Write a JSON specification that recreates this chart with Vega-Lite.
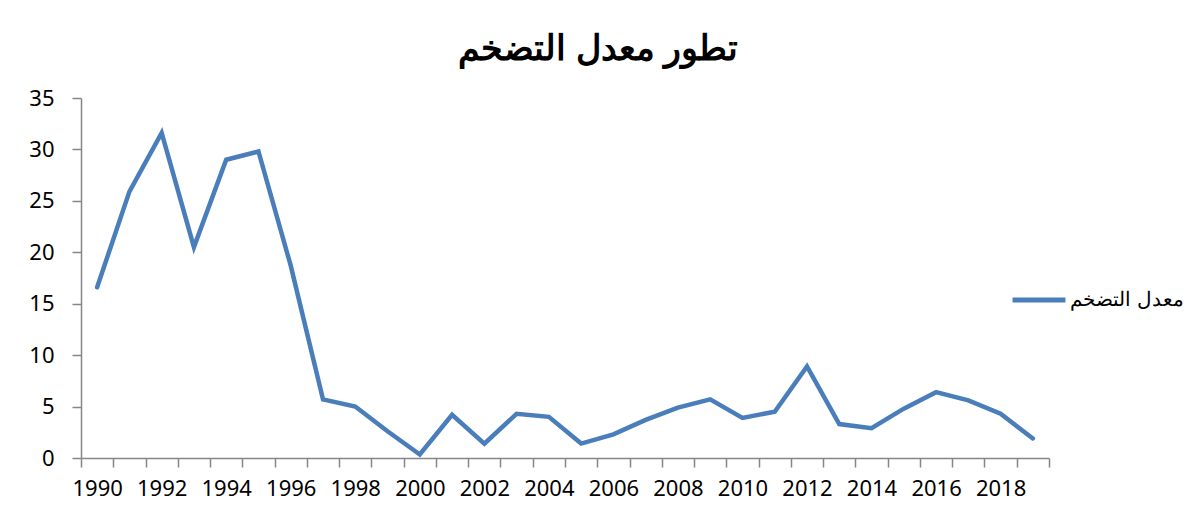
{
  "$schema": "https://vega.github.io/schema/vega-lite/v6.json",
  "autosize": "none",
  "width": 968,
  "height": 360,
  "padding": {"left": 81, "top": 98, "right": 153, "bottom": 59},
  "background": "white",
  "title": {
    "text": "تطور معدل التضخم",
    "font": "Liberation Sans",
    "fontSize": 35,
    "fontWeight": "bold",
    "color": "black",
    "anchor": "middle",
    "dx": 33,
    "offset": 20
  },
  "data": {
    "values": [
      {"year": 1990, "value": 16.6, "series": "معدل التضخم"},
      {"year": 1991, "value": 25.9, "series": "معدل التضخم"},
      {"year": 1992, "value": 31.6, "series": "معدل التضخم"},
      {"year": 1993, "value": 20.5, "series": "معدل التضخم"},
      {"year": 1994, "value": 29.0, "series": "معدل التضخم"},
      {"year": 1995, "value": 29.8, "series": "معدل التضخم"},
      {"year": 1996, "value": 18.7, "series": "معدل التضخم"},
      {"year": 1997, "value": 5.7, "series": "معدل التضخم"},
      {"year": 1998, "value": 5.0, "series": "معدل التضخم"},
      {"year": 1999, "value": 2.6, "series": "معدل التضخم"},
      {"year": 2000, "value": 0.34, "series": "معدل التضخم"},
      {"year": 2001, "value": 4.2, "series": "معدل التضخم"},
      {"year": 2002, "value": 1.4, "series": "معدل التضخم"},
      {"year": 2003, "value": 4.3, "series": "معدل التضخم"},
      {"year": 2004, "value": 4.0, "series": "معدل التضخم"},
      {"year": 2005, "value": 1.4, "series": "معدل التضخم"},
      {"year": 2006, "value": 2.3, "series": "معدل التضخم"},
      {"year": 2007, "value": 3.7, "series": "معدل التضخم"},
      {"year": 2008, "value": 4.9, "series": "معدل التضخم"},
      {"year": 2009, "value": 5.7, "series": "معدل التضخم"},
      {"year": 2010, "value": 3.9, "series": "معدل التضخم"},
      {"year": 2011, "value": 4.5, "series": "معدل التضخم"},
      {"year": 2012, "value": 8.9, "series": "معدل التضخم"},
      {"year": 2013, "value": 3.3, "series": "معدل التضخم"},
      {"year": 2014, "value": 2.9, "series": "معدل التضخم"},
      {"year": 2015, "value": 4.8, "series": "معدل التضخم"},
      {"year": 2016, "value": 6.4, "series": "معدل التضخم"},
      {"year": 2017, "value": 5.6, "series": "معدل التضخم"},
      {"year": 2018, "value": 4.3, "series": "معدل التضخم"},
      {"year": 2019, "value": 1.9, "series": "معدل التضخم"}
    ]
  },
  "mark": {"type": "line", "strokeWidth": 4.5, "strokeCap": "round"},
  "encoding": {
    "x": {
      "field": "year",
      "type": "quantitative",
      "scale": {"domain": [1989.5, 2019.5], "nice": false, "zero": false},
      "axis": {
        "title": null,
        "grid": false,
        "values": [1989.5, 1990, 1990.5, 1991, 1991.5, 1992, 1992.5, 1993, 1993.5, 1994, 1994.5, 1995, 1995.5, 1996, 1996.5, 1997, 1997.5, 1998, 1998.5, 1999, 1999.5, 2000, 2000.5, 2001, 2001.5, 2002, 2002.5, 2003, 2003.5, 2004, 2004.5, 2005, 2005.5, 2006, 2006.5, 2007, 2007.5, 2008, 2008.5, 2009, 2009.5, 2010, 2010.5, 2011, 2011.5, 2012, 2012.5, 2013, 2013.5, 2014, 2014.5, 2015, 2015.5, 2016, 2016.5, 2017, 2017.5, 2018, 2018.5, 2019, 2019.5],
        "labelExpr": "datum.value % 2 == 0 ? '' + datum.value : ''",
        "labelOverlap": false,
        "labelFlush": false,
        "labelFont": "Noto Sans",
        "labelFontSize": 22,
        "labelColor": "black",
        "labelPadding": 11,
        "tickSize": 9,
        "tickColor": "#868686",
        "tickWidth": 1.5,
        "tickOpacity": {"condition": {"test": "datum.value % 1 == 0", "value": 0}, "value": 1},
        "domainColor": "#868686",
        "domainWidth": 1.5
      }
    },
    "y": {
      "field": "value",
      "type": "quantitative",
      "scale": {"domain": [0, 35], "nice": false},
      "axis": {
        "title": null,
        "grid": false,
        "values": [0, 5, 10, 15, 20, 25, 30, 35],
        "labelFont": "Noto Sans",
        "labelFontSize": 22,
        "labelColor": "black",
        "labelPadding": 18,
        "tickSize": 9,
        "tickColor": "#868686",
        "tickWidth": 1.5,
        "domainColor": "#868686",
        "domainWidth": 1.5
      }
    },
    "color": {
      "field": "series",
      "type": "nominal",
      "scale": {"range": ["#4A7EBB"]},
      "legend": {
        "title": null,
        "orient": "none",
        "legendX": 929,
        "legendY": 173,
        "symbolType": "stroke",
        "symbolSize": 2800,
        "symbolStrokeWidth": 5,
        "labelFont": "Liberation Sans",
        "labelFontSize": 20,
        "labelColor": "black",
        "labelOffset": 2,
        "labelLimit": 300
      }
    }
  },
  "config": {"view": {"stroke": null}}
}
